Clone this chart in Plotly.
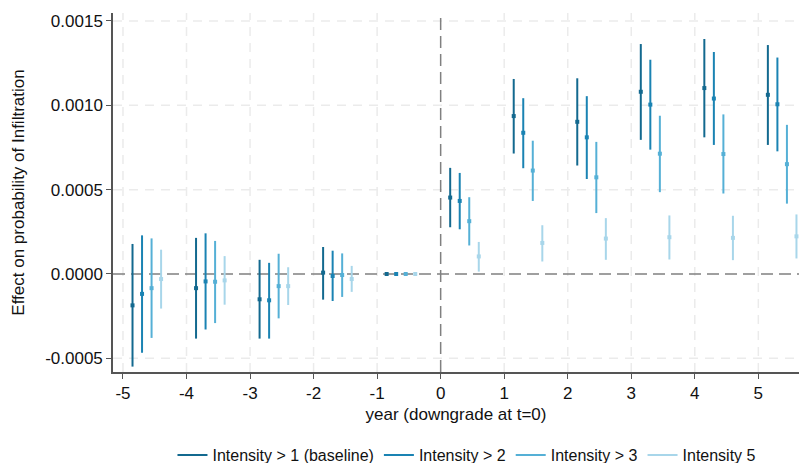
import plotly.graph_objects as go

years = [-5, -4, -3, -2, -1, 0, 1, 2, 3, 4, 5]

labels = ["Intensity > 1 (baseline)", "Intensity > 2", "Intensity > 3", "Intensity 5"]

s1_coef = [-0.000186, -0.000084, -0.000150, 0.000008, 0, 0.000453, 0.000936, 0.000902, 0.001080, 0.001102, 0.001062]
s1_lo = [-0.000549, -0.000383, -0.000383, -0.000152, 0, 0.000277, 0.000714, 0.000643, 0.000795, 0.000810, 0.000765]
s1_hi = [0.000178, 0.000214, 0.000084, 0.000160, 0, 0.000629, 0.001156, 0.001160, 0.001363, 0.001393, 0.001357]

s2_coef = [-0.000118, -0.000044, -0.000156, -0.000012, 0, 0.000433, 0.000837, 0.000810, 0.001004, 0.001040, 0.001006]
s2_lo = [-0.000467, -0.000329, -0.000383, -0.000160, 0, 0.000265, 0.000627, 0.000563, 0.000737, 0.000765, 0.000727]
s2_hi = [0.000229, 0.000241, 0.000066, 0.000138, 0, 0.000599, 0.001042, 0.001054, 0.001270, 0.001316, 0.001283]

s3_coef = [-0.000084, -0.000046, -0.000072, -0.000006, 0, 0.000313, 0.000613, 0.000573, 0.000713, 0.000711, 0.000651]
s3_lo = [-0.000379, -0.000291, -0.000263, -0.000136, 0, 0.000169, 0.000433, 0.000361, 0.000485, 0.000477, 0.000417]
s3_hi = [0.000211, 0.000196, 0.000120, 0.000122, 0, 0.000455, 0.000790, 0.000783, 0.000938, 0.000946, 0.000884]

s4_coef = [-0.000030, -0.000038, -0.000072, -0.000030, 0, 0.000104, 0.000184, 0.000210, 0.000218, 0.000214, 0.000223]
s4_lo = [-0.000205, -0.000182, -0.000184, -0.000106, 0, 0.000014, 0.000074, 0.000084, 0.000086, 0.000082, 0.000092]
s4_hi = [0.000144, 0.000106, 0.000040, 0.000048, 0, 0.000190, 0.000289, 0.000331, 0.000347, 0.000345, 0.000353]

y_tickvals = [-0.0005, 0.0, 0.0005, 0.0010, 0.0015]
y_ticktext = ["-0.0005", "0.0000", "0.0005", "0.0010", "0.0015"]
x_tickvals = [-5, -4, -3, -2, -1, 0, 1, 2, 3, 4, 5]
x_ticktext = ["-5", "-4", "-3", "-2", "-1", "0", "1", "2", "3", "4", "5"]

series = [
    (labels[0], s1_coef, s1_lo, s1_hi),
    (labels[1], s2_coef, s2_lo, s2_hi),
    (labels[2], s3_coef, s3_lo, s3_hi),
    (labels[3], s4_coef, s4_lo, s4_hi),
]
colors = ["#13698f", "#1a83b3", "#55b0d6", "#a8d6ea"]
offsets = [0.15, 0.30, 0.45, 0.60]

FONT = "Liberation Sans, Arial, sans-serif"

fig = go.Figure()
for (name, coef, lo, hi), col, off in zip(series, colors, offsets):
    xs = [t + off for t in years]
    seg_x, seg_y = [], []
    for x, a, b in zip(xs, lo, hi):
        seg_x += [x, x, None]
        seg_y += [a, b, None]
    fig.add_trace(go.Scatter(x=seg_x, y=seg_y, mode="lines", name=name,
                             line=dict(color=col, width=2), legendgroup=name))
    fig.add_trace(go.Scatter(x=xs, y=coef, mode="markers", name=name, showlegend=False,
                             legendgroup=name,
                             marker=dict(symbol="square", size=4, color=col)))

# light dashed grid (non-zero ticks), drawn as shapes
grid = dict(color="#ebebeb", width=1.5, dash="9px,7px")
for v in x_tickvals:
    if v != 0:
        fig.add_shape(type="line", xref="x", yref="paper", x0=v, x1=v, y0=0, y1=1,
                      line=grid, layer="below")
for v in y_tickvals:
    if v != 0:
        fig.add_shape(type="line", xref="paper", yref="y", x0=0, x1=1, y0=v, y1=v,
                      line=grid, layer="below")

# reference lines at zero
fig.add_shape(type="line", xref="paper", yref="y", x0=0, x1=1, y0=0, y1=0,
              line=dict(color="#808080", width=1.5, dash="12px,6px"), layer="below")
fig.add_shape(type="line", xref="x", yref="paper", x0=0, x1=0, y0=0, y1=1,
              line=dict(color="#808080", width=1.5, dash="12px,6px"), layer="below")

fig.update_layout(
    width=799, height=463,
    margin=dict(l=113, r=0, t=13, b=91, autoexpand=False),
    paper_bgcolor="white", plot_bgcolor="white",
    font=dict(family=FONT, size=17, color="#111"),
    showlegend=True,
    legend=dict(orientation="h", x=0.516, xanchor="center",
                yref="container", y=0.017, yanchor="middle",
                font=dict(size=16), itemwidth=30, tracegroupgap=0,
                bgcolor="rgba(0,0,0,0)"),
    xaxis=dict(range=[-5.157, 5.64], tickvals=x_tickvals, ticktext=x_ticktext,
               showgrid=False,
               zeroline=False, showline=True, linecolor="#555", linewidth=1.5,
               ticks="outside", ticklen=5, tickcolor="#555", tickfont=dict(size=17),
               title=dict(text="year (downgrade at t=0)", standoff=6, font=dict(size=17))),
    yaxis=dict(range=[-0.000581, 0.001547], tickvals=y_tickvals, ticktext=y_ticktext,
               showgrid=False,
               zeroline=False, showline=True, linecolor="#555", linewidth=1.5,
               ticks="outside", ticklen=5, tickcolor="#555", tickfont=dict(size=17),
               title=dict(text="Effect on probability of Infiltration", standoff=16, font=dict(size=17))),
)

fig.write_html("out.html")
